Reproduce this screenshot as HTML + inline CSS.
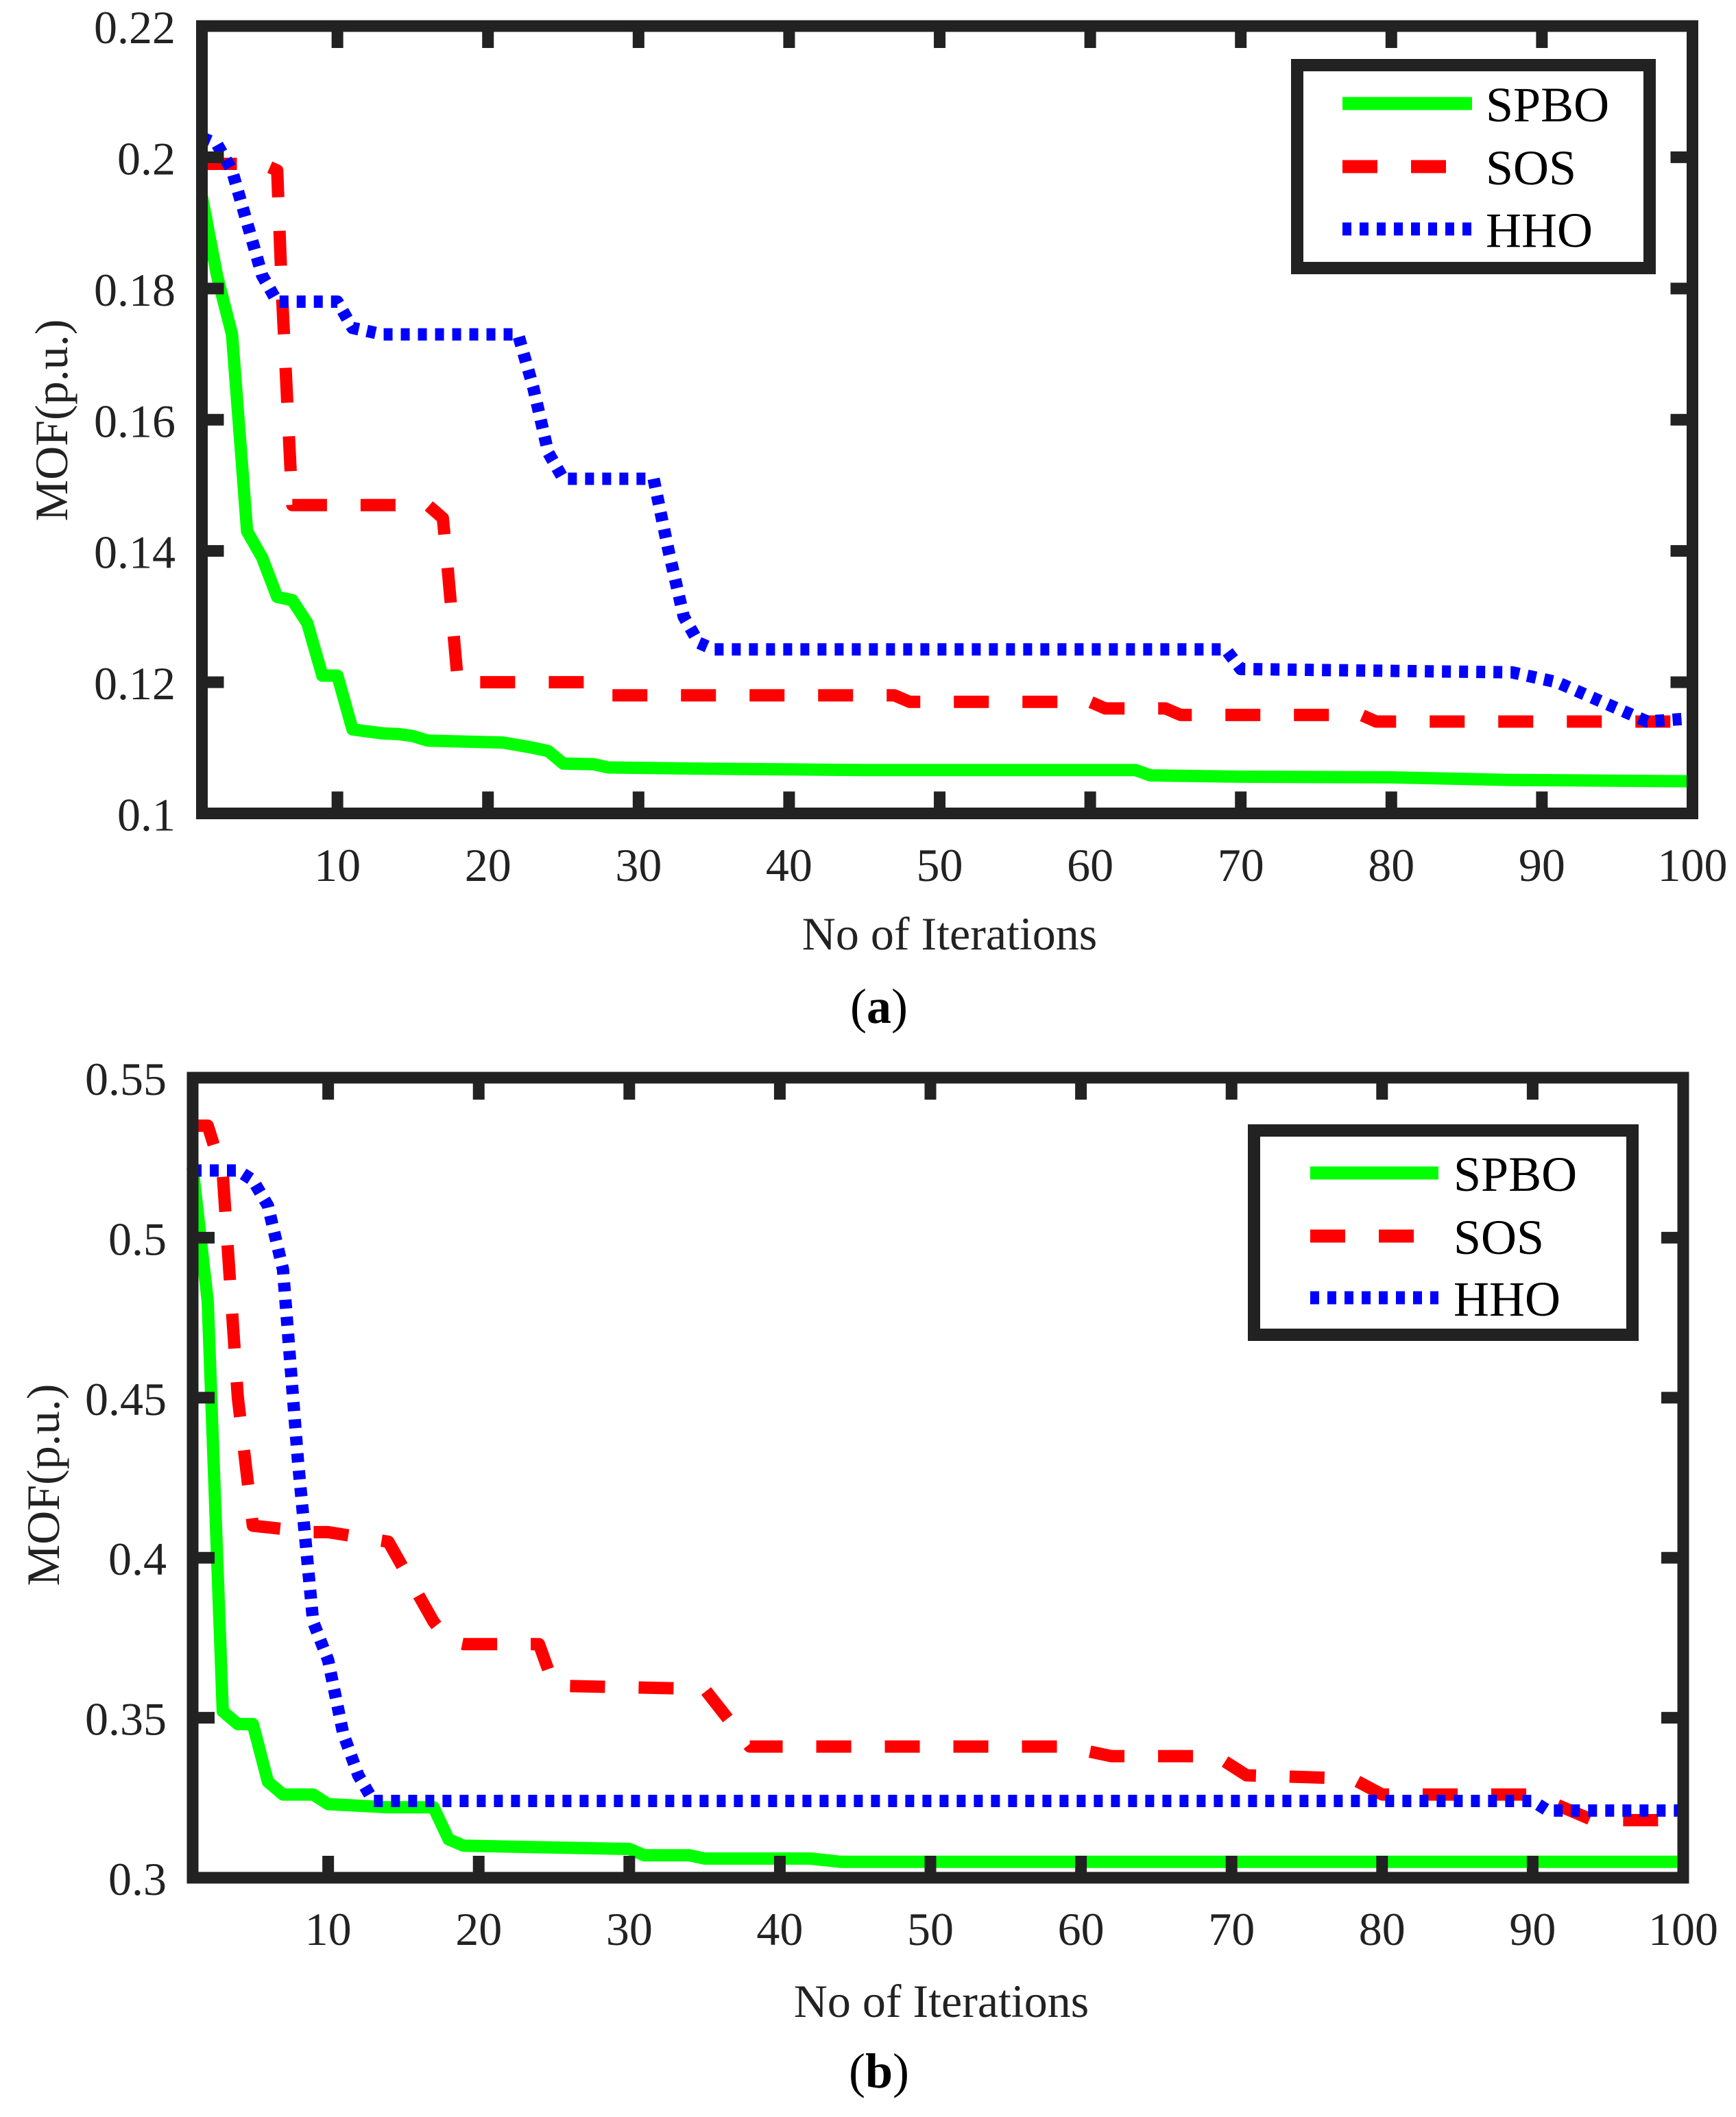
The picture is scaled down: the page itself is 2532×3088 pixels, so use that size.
<!DOCTYPE html>
<html><head><meta charset="utf-8"><style>
html,body{margin:0;padding:0;background:#fff;}
svg{display:block;}
svg text{font-family:"Liberation Serif","Times New Roman",serif;}
</style></head><body>
<svg id="fig" width="2532" height="3088" viewBox="0 0 2532 3088" xmlns="http://www.w3.org/2000/svg" font-family="Liberation Serif, serif"></svg>
<script>
// ---------- Chart (a) data ----------
const aSpboX = [1,2,3,4,5,6,7,8,9,10,11,12,13,14,15,16,21,23,24,25,27,28,35,45,63,64,70,80,88,100];
const aSpboY = [0.194,0.182,0.173,0.143,0.139,0.133,0.1325,0.129,0.121,0.121,0.1128,0.1125,0.1122,0.1121,0.1118,0.1111,0.1108,0.110,0.1095,0.1076,0.1075,0.107,0.1068,0.1066,0.1066,0.1058,0.1056,0.1055,0.1051,0.1049];
const aSosX = [1,5,6,6.3,7,16,17,17.3,18,27,28,47,48,60,61,65,66,78,79,100];
const aSosY = [0.199,0.199,0.198,0.18,0.147,0.147,0.145,0.138,0.12,0.12,0.118,0.118,0.117,0.117,0.116,0.116,0.115,0.115,0.114,0.114];
const aHhoX = [1,2,3,4,5,6,10,11,13,22,23,24,25,31,32,33,34,35,69,70,88,91,95,97,100];
const aHhoY = [0.203,0.202,0.198,0.19,0.182,0.178,0.178,0.174,0.173,0.173,0.165,0.155,0.151,0.151,0.14,0.13,0.126,0.125,0.125,0.122,0.1215,0.12,0.116,0.114,0.1145];
const aYTicks = [0.1,0.12,0.14,0.16,0.18,0.2,0.22];
const aYLabels = ["0.1","0.12","0.14","0.16","0.18","0.2","0.22"];
// ---------- Chart (b) data ----------
const bSpboX = [1,2,3,4,5,6,7,9,10,14,17,18,19,30,31,34,35,42,44,100];
const bSpboY = [0.522,0.48,0.352,0.348,0.348,0.33,0.326,0.326,0.323,0.322,0.322,0.312,0.310,0.309,0.307,0.307,0.306,0.306,0.305,0.305];
const bSosX = [1,2,3,4,5,9,10,14,17,18,19,24,25,35,38,59,62,69,71,78,80,90,94,100];
const bSosY = [0.535,0.535,0.52,0.45,0.41,0.408,0.408,0.405,0.38,0.374,0.373,0.373,0.36,0.359,0.341,0.341,0.338,0.338,0.332,0.331,0.326,0.326,0.318,0.318];
const bHhoX = [1,4,5,6,7,8,9,10,11,12,13,90,91,100];
const bHhoY = [0.521,0.521,0.518,0.51,0.49,0.43,0.38,0.368,0.345,0.332,0.324,0.324,0.321,0.321];
const bYTicks = [0.3,0.35,0.4,0.45,0.5,0.55];
const bYLabels = ["0.3","0.35","0.4","0.45","0.5","0.55"];
const xTicks = [10,20,30,40,50,60,70,80,90,100];
const seriesNames = ["SPBO","SOS","HHO"];

const NS="http://www.w3.org/2000/svg";
const svg=document.getElementById('fig');
const FONT='Liberation Serif, serif';
function mk(tag,attrs,parent){const e=document.createElementNS(NS,tag);for(const k in attrs)e.setAttribute(k,attrs[k]);if(tag==='text')e.setAttribute('font-family',FONT);(parent||svg).appendChild(e);return e;}
const INK="#222";
const styles=[{c:"#00ff00",d:"none"},{c:"#ff0000",d:"51,49"},{c:"#0000ff",d:"13,12"}];

function chart(cfg){
  const g=mk('g',{});
  
  
  const L=cfg.L,R=cfg.R,T=cfg.T,B=cfg.B;
  const sx=v=>L+(v-1)/99*(R-L);
  const sy=v=>B-(v-cfg.ymin)/(cfg.ymax-cfg.ymin)*(B-T);
  cfg.series.forEach((s,i)=>{
    let d='';
    s.x.forEach((xv,j)=>{d+=(j?'L':'M')+sx(xv).toFixed(1)+','+sy(s.y[j]).toFixed(1);});
    const p=mk('path',{d:d,fill:'none',stroke:styles[i].c,'stroke-width':18,'stroke-dasharray':styles[i].d,'stroke-linejoin':'round'},g);
    
    
  });
  xTicks.forEach(t=>{
    const x=sx(t);
    mk('line',{x1:x,y1:B,x2:x,y2:B-32,stroke:INK,'stroke-width':17},g);
    mk('line',{x1:x,y1:T,x2:x,y2:T+32,stroke:INK,'stroke-width':17},g);
    const tx=mk('text',{x:x,y:cfg.xlabY,'font-size':68,'text-anchor':'middle',fill:INK},g);
    tx.textContent=String(t);
    
    
  });
  cfg.yTicks.forEach((t,i)=>{
    const y=sy(t);
    mk('line',{x1:L,y1:y,x2:L+32,y2:y,stroke:INK,'stroke-width':17},g);
    mk('line',{x1:R,y1:y,x2:R-32,y2:y,stroke:INK,'stroke-width':17},g);
    const tx=mk('text',{x:cfg.ylabX,y:y+25,'font-size':68,'text-anchor':'end',fill:INK},g);
    tx.textContent=cfg.yLabels[i];
    
    
  });
  const ax=mk('rect',{x:L,y:T,width:R-L,height:B-T,fill:'none',stroke:INK,'stroke-width':17},g);
  
  
  const xt=mk('text',{x:cfg.xtX,y:cfg.xtY,'font-size':68,'text-anchor':'middle',fill:INK},g);
  xt.textContent='No of Iterations';
  
  
  const yt=mk('text',{x:0,y:0,'font-size':68,'text-anchor':'middle',fill:INK,transform:`translate(${cfg.ytX},${cfg.ytY}) rotate(-90)`},g);
  yt.textContent='MOF(p.u.)';
  
  
  const cap=mk('text',{x:cfg.capX,y:cfg.capY,'font-size':72,'text-anchor':'middle',fill:'#000'},g);
  cap.innerHTML='(<tspan font-weight="bold">'+cfg.cap+'</tspan>)';
  
  
  const lg=mk('g',{},g);
  
  
  mk('rect',{x:cfg.lgX,y:cfg.lgY,width:cfg.lgW,height:cfg.lgH,fill:'#fff',stroke:INK,'stroke-width':18},lg);
  seriesNames.forEach((n,i)=>{
    const y=cfg.lgRows[i];
    const e=mk('g',{},lg);
    
    
    mk('line',{x1:cfg.lgL1,y1:y,x2:cfg.lgL2,y2:y,stroke:styles[i].c,'stroke-width':19,'stroke-dasharray':styles[i].d},e);
    const t=mk('text',{x:cfg.lgT,y:y+26,'font-size':72,fill:'#000'},e);
    t.textContent=n;
  });
}

chart({name:'chart-a',L:294.5,R:2468.5,T:38,B:1186.5,ymin:0.1,ymax:0.22,
  series:[{x:aSpboX,y:aSpboY},{x:aSosX,y:aSosY},{x:aHhoX,y:aHhoY}],
  yTicks:aYTicks,yLabels:aYLabels,xlabY:1285,ylabX:256,
  xtX:1385,xtY:1385,ytX:98,ytY:613,capX:1282,capY:1492,cap:'a',
  lgX:1892,lgY:95,lgW:514,lgH:296,lgRows:[151,243,334],lgL1:1958,lgL2:2147,lgT:2167});
chart({name:'chart-b',L:281,R:2455,T:1572,B:2739,ymin:0.3,ymax:0.55,
  series:[{x:bSpboX,y:bSpboY},{x:bSosX,y:bSosY},{x:bHhoX,y:bHhoY}],
  yTicks:bYTicks,yLabels:bYLabels,xlabY:2837,ylabX:243,
  xtX:1373,xtY:2942,ytX:86,ytY:2166,capX:1282,capY:3045,cap:'b',
  lgX:1829,lgY:1649,lgW:552,lgH:298,lgRows:[1711,1803,1893],lgL1:1911,lgL2:2098,lgT:2120});
</script>
</body></html>
